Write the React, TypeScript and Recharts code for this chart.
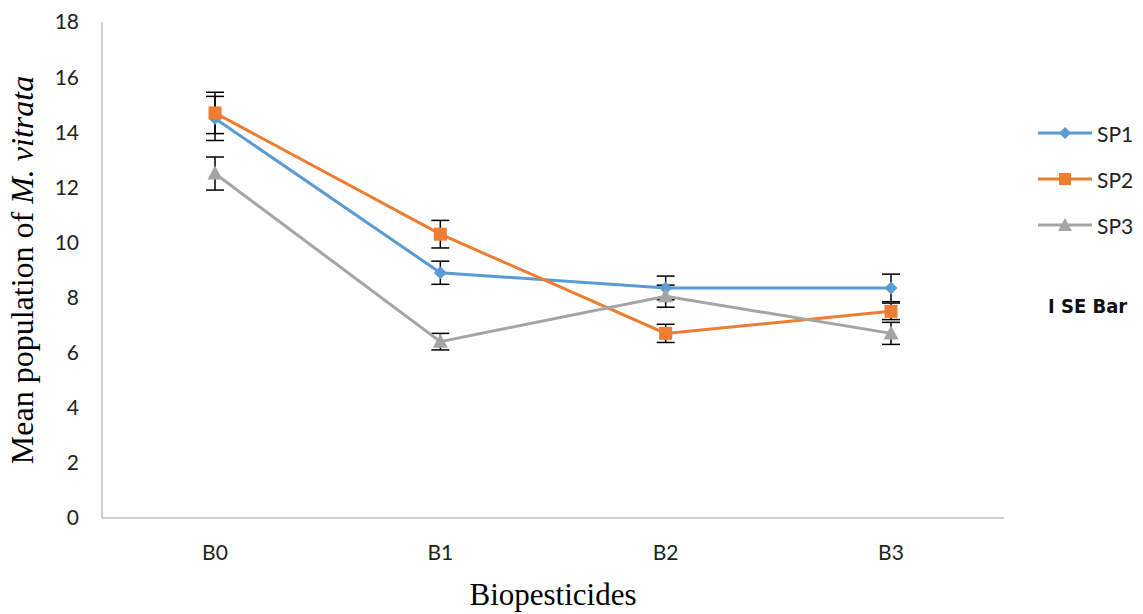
import { LineChart, Line, XAxis, YAxis, ErrorBar, Label } from "recharts";

const CATEGORIES = ["B0", "B1", "B2", "B3"];
const SP1 = [14.5, 8.9, 8.35, 8.35];
const SP2 = [14.7, 10.3, 6.7, 7.5];
const SP3 = [12.5, 6.4, 8.05, 6.7];
const SP1_SE = [0.8, 0.42, 0.43, 0.5];
const SP2_SE = [0.75, 0.5, 0.33, 0.3];
const SP3_SE = [0.6, 0.3, 0.4, 0.4];
const Y_TICKS = [0, 2, 4, 6, 8, 10, 12, 14, 16, 18];

const BLUE = "#5B9BD5";
const ORANGE = "#ED7D31";
const GRAY = "#A5A5A5";
const AXIS = "#BFBFBF";
const SERIF = "'Liberation Serif', 'Times New Roman', serif";
const SANS = "Lato, 'Open Sans', sans-serif";

const data = CATEGORIES.map((cat, i) => ({
  cat,
  sp1: SP1[i],
  sp2: SP2[i],
  sp3: SP3[i],
  sp1Se: SP1_SE[i],
  sp2Se: SP2_SE[i],
  sp3Se: SP3_SE[i],
}));

const diamondDot = (props: any) => {
  const { cx, cy, index } = props;
  const r = 6.5;
  return (
    <polygon
      key={`d-${index}`}
      points={`${cx},${cy - r} ${cx + r},${cy} ${cx},${cy + r} ${cx - r},${cy}`}
      fill={BLUE}
    />
  );
};

const squareDot = (props: any) => {
  const { cx, cy, index } = props;
  const s = 13;
  return <rect key={`s-${index}`} x={cx - s / 2} y={cy - s / 2} width={s} height={s} fill={ORANGE} />;
};

const triangleDot = (props: any) => {
  const { cx, cy, index } = props;
  const w = 7.5;
  return (
    <polygon
      key={`t-${index}`}
      points={`${cx},${cy - 8} ${cx + w},${cy + 6} ${cx - w},${cy + 6}`}
      fill={GRAY}
    />
  );
};

const LEGEND_ITEMS = [
  { name: "SP1", color: BLUE, shape: "diamond" },
  { name: "SP2", color: ORANGE, shape: "square" },
  { name: "SP3", color: GRAY, shape: "triangle" },
];

function LegendIcon({ color, shape }: { color: string; shape: string }) {
  return (
    <svg width={56} height={16} style={{ display: "block" }}>
      <line x1={1} y1={8} x2={55} y2={8} stroke={color} strokeWidth={3} />
      {shape === "diamond" && <polygon points="28,2 34,8 28,14 22,8" fill={color} />}
      {shape === "square" && <rect x={22} y={2} width={12} height={12} fill={color} />}
      {shape === "triangle" && <polygon points="28,1 35,14 21,14" fill={color} />}
    </svg>
  );
}

function LegendBox() {
  return (
    <div style={{ position: "absolute", left: 1037, top: 110, width: 110 }}>
      {LEGEND_ITEMS.map((it) => (
        <div key={it.name} style={{ display: "flex", alignItems: "center", height: 46 }}>
          <LegendIcon color={it.color} shape={it.shape} />
          <span style={{ fontFamily: SANS, fontSize: 21, color: "#222", marginLeft: 4 }}>{it.name}</span>
        </div>
      ))}
      <div
        style={{
          marginTop: 46,
          marginLeft: 11,
          fontFamily: "'DejaVu Sans Condensed', 'DejaVu Sans', sans-serif",
          fontStretch: "condensed",
          fontWeight: 700,
          fontSize: 20,
          color: "#111",
        }}
      >
        I SE Bar
      </div>
    </div>
  );
}

function YTitle(props: any) {
  const vb = props.viewBox || { x: 0, y: 22, width: 102, height: 496 };
  const cy = vb.y + vb.height / 2;
  return (
    <text
      transform={`translate(33,${cy}) rotate(-90)`}
      textAnchor="middle"
      fontFamily={SERIF}
      fontSize={32}
      fill="#000"
    >
      {"Mean population of "}
      <tspan fontStyle="italic">M. vitrata</tspan>
    </text>
  );
}

function XTitle(props: any) {
  const vb = props.viewBox || { x: 102, y: 518, width: 902, height: 96 };
  return (
    <text x={vb.x + vb.width / 2} y={vb.y + 87} textAnchor="middle" fontFamily={SERIF} fontSize={31} fill="#000">
      Biopesticides
    </text>
  );
}

export default function App() {
  return (
    <div style={{ position: "absolute", left: 0, top: 0, width: 1143, height: 614, background: "#fff" }}>
      <LineChart width={1143} height={614} data={data} margin={{ top: 22, right: 139, bottom: 0, left: 0 }}>
        <XAxis
          dataKey="cat"
          height={96}
          padding={{ left: 113, right: 113 }}
          axisLine={{ stroke: AXIS, strokeWidth: 1.5 }}
          tickLine={false}
          tickSize={0}
          tickMargin={27}
          tick={{ fontFamily: SANS, fontSize: 21, fill: "#222" }}
        >
          <Label content={(p: any) => <XTitle {...p} />} />
        </XAxis>
        <YAxis
          width={102}
          domain={[0, 18]}
          ticks={Y_TICKS}
          interval={0}
          axisLine={{ stroke: AXIS, strokeWidth: 1.5 }}
          tickLine={false}
          tickSize={0}
          tickMargin={23}
          tick={{ fontFamily: SANS, fontSize: 21, fill: "#222" }}
        >
          <Label content={(p: any) => <YTitle {...p} />} />
        </YAxis>
        <Line dataKey="sp1" name="SP1" stroke={BLUE} strokeWidth={3} dot={diamondDot} activeDot={false} isAnimationActive={false}>
          <ErrorBar dataKey="sp1Se" direction="y" width={9} stroke="#000" strokeWidth={1.5} isAnimationActive={false} />
        </Line>
        <Line dataKey="sp2" name="SP2" stroke={ORANGE} strokeWidth={3} dot={squareDot} activeDot={false} isAnimationActive={false}>
          <ErrorBar dataKey="sp2Se" direction="y" width={9} stroke="#000" strokeWidth={1.5} isAnimationActive={false} />
        </Line>
        <Line dataKey="sp3" name="SP3" stroke={GRAY} strokeWidth={3} dot={triangleDot} activeDot={false} isAnimationActive={false}>
          <ErrorBar dataKey="sp3Se" direction="y" width={9} stroke="#000" strokeWidth={1.5} isAnimationActive={false} />
        </Line>
      </LineChart>
      <LegendBox />
    </div>
  );
}
